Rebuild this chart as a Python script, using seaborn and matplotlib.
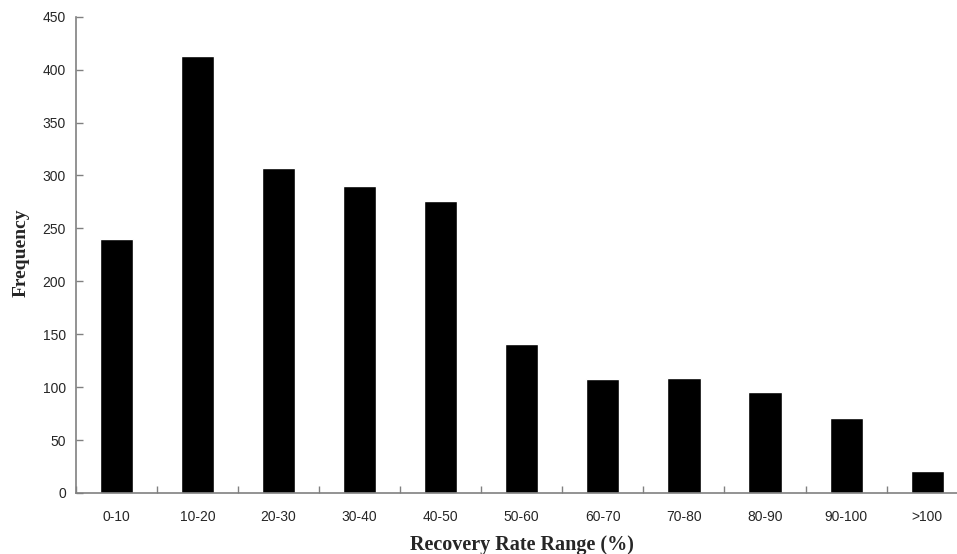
import numpy as np
import pandas as pd
import seaborn as sns
import matplotlib.pyplot as plt
from matplotlib.ticker import FixedLocator

ranges = ['0-10', '10-20', '20-30', '30-40', '40-50', '50-60',
          '60-70', '70-80', '80-90', '90-100', '>100']
freq = [240, 413, 307, 290, 276, 141, 108, 109, 95, 71, 21]
yticks = [0, 50, 100, 150, 200, 250, 300, 350, 400, 450]

df = pd.DataFrame({'range': ranges, 'freq': freq})

sns.set_style('white')
plt.rcParams['font.family'] = ['Liberation Sans', 'DejaVu Sans']

W, H = 957, 554
fig = plt.figure(figsize=(W / 100, H / 100), dpi=100)
# the plot runs a little past the right edge of the picture, as in the source
left, right, top, bottom = 75.7, 967.8, 16.7, 493.0
ax = fig.add_axes([left / W, 1 - bottom / H, (right - left) / W, (bottom - top) / H])

sns.barplot(data=df, x='range', y='freq', color='black', width=0.41,
            saturation=1, ax=ax)

ax.set_xlim(-0.5, len(ranges) - 0.5)
ax.set_ylim(0, 450)
ax.set_yticks(yticks)

axis_col = '#808080'
sns.despine(ax=ax)
for s in ['left', 'bottom']:
    ax.spines[s].set_color(axis_col)
    ax.spines[s].set_linewidth(1.2)

ax.tick_params(axis='y', direction='in', length=5, width=1, color=axis_col,
               labelsize=10, pad=7, left=True)
ax.tick_params(axis='x', which='major', length=0, labelsize=10, pad=12)
ax.xaxis.set_minor_locator(FixedLocator(np.arange(-0.5, len(ranges), 1.0)))
ax.tick_params(axis='x', which='minor', direction='in', length=5, width=1,
               color=axis_col, bottom=True)

ax.set_xlabel('Recovery Rate Range (%)', fontfamily='Liberation Serif',
              fontweight='bold', fontsize=14.5, va='baseline')
ax.xaxis.set_label_coords(0.5, (bottom - 550) / (bottom - top))
ax.set_ylabel('Frequency', fontfamily='Liberation Serif',
              fontweight='bold', fontsize=14)
ax.yaxis.set_label_coords((30 - left) / (right - left), (bottom - 252.5) / (bottom - top))

plt.savefig('out.png', dpi=100)
